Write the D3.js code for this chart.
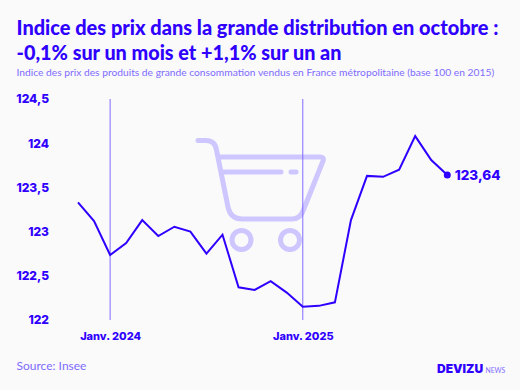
<!DOCTYPE html>
<html>
<head>
<meta charset="utf-8">
<script src="https://d3js.org/d3.v7.min.js"></script>
<style>
  html, body { margin: 0; padding: 0; background: #fafafa; }
  svg { display: block; }
  text { font-family: Lato, sans-serif; }
  .axis text { font-family: Inter, sans-serif; font-weight: 800; font-size: 12px; fill: #2f00ff; }
</style>
</head>
<body>
<svg></svg>
<script>
// data, nov 2023 -> oct 2025
let months = ["2023-11", "2023-12", "2024-01", "2024-02", "2024-03", "2024-04", "2024-05", "2024-06",
  "2024-07", "2024-08", "2024-09", "2024-10", "2024-11", "2024-12", "2025-01", "2025-02", "2025-03",
  "2025-04", "2025-05", "2025-06", "2025-07", "2025-08", "2025-09", "2025-10"];
let values = [123.33, 123.12, 122.735, 122.87, 123.13, 122.95, 123.055, 123.0,
  122.75, 122.965, 122.37, 122.34, 122.44, 122.31, 122.15, 122.16, 122.2,
  123.13, 123.63, 123.62, 123.70, 124.08, 123.81, 123.64];
let yTicks = [122, 122.5, 123, 123.5, 124, 124.5];
let januaries = ["2024-01", "2025-01"];
let januaryLabels = ["Janv. 2024", "Janv. 2025"];

let svgWidth = 520, svgHeight = 390;
let blue = "#2f00ff", lightBlue = "#7f6bff";

let svg = d3.select("svg")
  .attr("width", svgWidth)
  .attr("height", svgHeight);

let x = d3.scalePoint().domain(months).range([78, 447.3]);
let y = d3.scaleLinear().domain([122, 124.5]).range([320, 99]);

// titles
svg.append("text").attr("x", 16.5).attr("y", 35)
  .attr("font-size", 20.1).attr("font-weight", 900).attr("fill", blue)
  .attr("textLength", 482).attr("lengthAdjust", "spacingAndGlyphs")
  .text("Indice des prix dans la grande distribution en octobre :");
svg.append("text").attr("x", 16.5).attr("y", 60)
  .attr("font-size", 20.1).attr("font-weight", 900).attr("fill", blue)
  .attr("textLength", 325).attr("lengthAdjust", "spacingAndGlyphs")
  .text("-0,1% sur un mois et +1,1% sur un an");
svg.append("text").attr("x", 16.5).attr("y", 76)
  .attr("font-size", 10.25).attr("fill", lightBlue)
  .text("Indice des prix des produits de grande consommation vendus en France métropolitaine (base 100 en 2015)");

// caddie in the background
let cart = svg.append("g")
  .attr("fill", "none")
  .attr("stroke", "#cdc6ff")
  .attr("stroke-width", 5)
  .attr("stroke-linecap", "round");
cart.append("path").attr("d", "M198 140.5 H206 Q215 140.5 216.5 150 L228 207 Q230.500 219 242 219 H292 Q300 219 303 211 L323 161 Q324.500 157 320 157 H219");
cart.append("path").attr("d", "M222 172 H281");
cart.append("path").attr("d", "M291 172 H296");
cart.append("circle").attr("cx", 241.500).attr("cy", 240).attr("r", 9.5);
cart.append("circle").attr("cx", 290).attr("cy", 240).attr("r", 9.5);

// january lines
svg.selectAll(".janv")
  .data(januaries)
  .enter()
  .append("line")
  .attr("class", "janv")
  .attr("x1", d => x(d)).attr("x2", d => x(d))
  .attr("y1", y(124.5)).attr("y2", y(122))
  .attr("stroke", lightBlue).attr("stroke-width", 1);

// y axis
let yAxis = d3.axisLeft(y)
  .tickValues(yTicks)
  .tickSize(0)
  .tickPadding(0)
  .tickFormat(d => String(d).replace(".", ","));
svg.append("g")
  .attr("class", "axis")
  .attr("transform", "translate(49,0)")
  .call(yAxis)
  .call(g => g.select(".domain").remove());

// x axis, only the januaries are labelled
let xAxis = d3.axisBottom(x)
  .tickValues(januaries)
  .tickSize(0)
  .tickPadding(0)
  .tickFormat((d, i) => januaryLabels[i]);
svg.append("g")
  .attr("class", "axis")
  .attr("transform", "translate(0,332)")
  .call(xAxis)
  .call(g => g.select(".domain").remove())
  .call(g => g.selectAll("text").style("font-size", "11px"));

// line
let line = d3.line()
  .x((d, i) => x(months[i]))
  .y(d => y(d));
svg.append("path")
  .datum(values)
  .attr("d", line)
  .attr("fill", "none")
  .attr("stroke", blue)
  .attr("stroke-width", 2)
  .attr("stroke-linejoin", "miter");

// last point
let last = values.length - 1;
svg.append("circle")
  .attr("cx", x(months[last])).attr("cy", y(values[last]))
  .attr("r", 3.5).attr("fill", blue);
svg.append("text")
  .attr("x", x(months[last]) + 7.5).attr("y", y(values[last]) + 5)
  .style("font-family", "Inter, sans-serif")
  .attr("font-size", 13.5).attr("font-weight", 800).attr("fill", blue)
  .text(String(values[last]).replace(".", ","));

// footer
svg.append("text").attr("x", 16.5).attr("y", 370)
  .attr("font-size", 12).attr("fill", lightBlue)
  .text("Source: Insee");
svg.append("text").attr("x", 437).attr("y", 372.5)
  .style("font-family", "Inter, sans-serif")
  .attr("font-size", 12).attr("font-weight", 900).attr("fill", blue)
  .text("DEVIZU");
svg.append("text").attr("x", 485.5).attr("y", 372.5)
  .attr("font-size", 6.8).attr("fill", lightBlue)
  .text("NEWS");
</script>
</body>
</html>
